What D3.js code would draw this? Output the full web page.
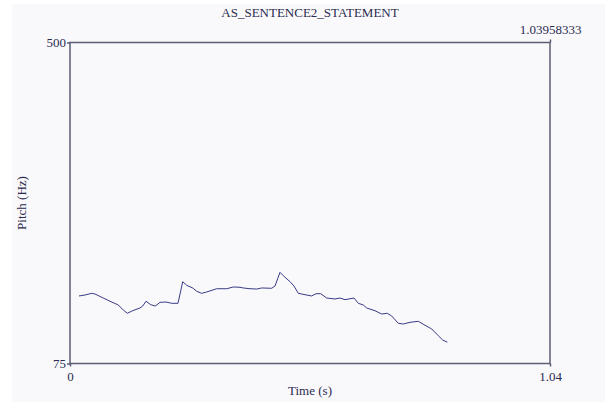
<!DOCTYPE html>
<html>
<head>
<meta charset="utf-8">
<script src="https://cdn.jsdelivr.net/npm/d3@7"></script>
<style>
  body { margin: 0; background: #fff; }
  svg text { font-family: "Liberation Serif", "DejaVu Serif", serif !important; fill: #2b2b4f; }
</style>
</head>
<body>
<div id="chart"></div>
<script>
const width = 605;
const height = 408;

// pitch track (time in s, pitch in Hz)
const times = [0.0195, 0.0325, 0.0470, 0.0541, 0.0721, 0.0866, 0.1046, 0.1154, 0.1241, 0.1358,
  0.1516, 0.1575, 0.1646, 0.1748, 0.1847, 0.1949, 0.2079, 0.2203, 0.2339, 0.2441,
  0.2528, 0.2657, 0.2744, 0.2852, 0.2961, 0.3177, 0.3394, 0.3537, 0.3682, 0.3753,
  0.3898, 0.4044, 0.4152, 0.4368, 0.4440, 0.4548, 0.4620, 0.4765, 0.4851, 0.4945,
  0.5090, 0.5235, 0.5328, 0.5430, 0.5560, 0.5739, 0.5848, 0.5956, 0.6151, 0.6244,
  0.6352, 0.6426, 0.6606, 0.6751, 0.6872, 0.6967, 0.7110, 0.7219, 0.7364, 0.7544,
  0.7667, 0.7834, 0.7977, 0.8072, 0.8172];
const pitch = [164.4, 165.7, 167.9, 167.0, 161.7, 157.4, 152.5, 145.8, 141.5, 144.9,
  148.5, 151.1, 157.4, 152.9, 151.1, 156.0, 156.4, 154.7, 154.7, 183.3,
  178.5, 175.0, 170.6, 167.9, 169.7, 174.0, 174.0, 176.3, 175.9, 175.0,
  174.0, 173.6, 175.0, 174.6, 177.6, 195.7, 191.2, 183.3, 177.6, 167.9,
  166.1, 164.4, 167.4, 167.4, 161.7, 160.4, 161.7, 159.5, 161.7, 154.7,
  152.5, 148.5, 144.9, 140.5, 141.5, 137.9, 128.2, 127.3, 129.5, 130.9,
  126.4, 120.7, 111.8, 106.1, 103.1];

const xDomain = [0, 1.03958333];
const yDomain = [75, 500];
const xTickLabels = ["0", "1.04"];
const yTicks = [75, 500];

const svg = d3.select("#chart")
    .append("svg")
    .attr("width", width)
    .attr("height", height)
    .style("display", "block");

const margin = { top: 42.5, right: 55, bottom: 44.5, left: 70 };
const innerWidth = width - margin.left - margin.right;
const innerHeight = height - margin.top - margin.bottom;

svg.append("rect")
    .attr("x", 12)
    .attr("y", 4)
    .attr("width", width - 12)
    .attr("height", 398)
    .attr("fill", "#f9f9fc");

const chart = svg.append("g")
    .attr("transform", `translate(${margin.left}, ${margin.top})`);

const xScale = d3.scaleLinear().domain(xDomain).range([0, innerWidth]);
const yScale = d3.scaleLinear().domain(yDomain).range([innerHeight, 0]);

// frame
chart.append("rect")
    .attr("width", innerWidth)
    .attr("height", innerHeight)
    .attr("fill", "none")
    .attr("stroke", "#5c5c72")
    .attr("stroke-width", 1.5);

const xAxis = d3.axisBottom(xScale)
    .tickValues(xDomain)
    .tickSize(3)
    .tickSizeOuter(0)
    .tickFormat((d, i) => xTickLabels[i]);

const yAxis = d3.axisLeft(yScale)
    .tickValues(yTicks)
    .tickSize(3)
    .tickSizeOuter(0)
    .tickFormat(d3.format("d"));

const topAxis = d3.axisTop(xScale)
    .tickValues([xDomain[1]])
    .tickSize(3)
    .tickSizeOuter(0)
    .tickFormat(d => d.toString());

function styleAxis(g) {
    g.attr("font-family", "Liberation Serif").attr("font-size", 13);
    g.select(".domain").remove();
    g.selectAll("line").attr("stroke", "#5c5c72").attr("stroke-width", 1.5);
    g.selectAll("text").attr("fill", "#2b2b4f");
}

chart.append("g")
    .attr("transform", `translate(0, ${innerHeight})`)
    .call(xAxis)
    .call(styleAxis)
    .selectAll("text").attr("dy", "0.9em");

chart.append("g")
    .call(yAxis)
    .call(styleAxis)
    .selectAll("text").attr("x", -4);

chart.append("g")
    .call(topAxis)
    .call(styleAxis)
    .selectAll("text").attr("y", -9);

const line = d3.line()
    .x((d, i) => xScale(times[i]))
    .y(d => yScale(d));

chart.append("path")
    .datum(pitch)
    .attr("fill", "none")
    .attr("stroke", "#3a3a86")
    .attr("stroke-width", 1)
    .attr("d", line);

svg.append("text")
    .attr("x", 310)
    .attr("y", 17)
    .attr("text-anchor", "middle")
    .attr("font-size", 13)
    .text("AS_SENTENCE2_STATEMENT");

svg.append("text")
    .attr("x", margin.left + innerWidth / 2)
    .attr("y", 395)
    .attr("text-anchor", "middle")
    .attr("font-size", 13)
    .text("Time (s)");

svg.append("text")
    .attr("transform", `translate(26, ${margin.top + innerHeight / 2}) rotate(-90)`)
    .attr("text-anchor", "middle")
    .attr("font-size", 13)
    .text("Pitch (Hz)");
</script>
</body>
</html>
